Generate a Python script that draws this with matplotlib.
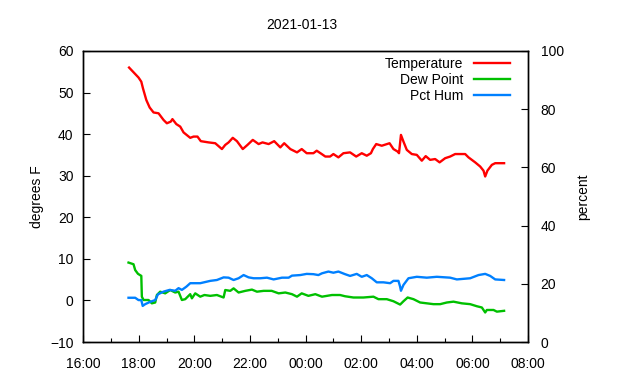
import matplotlib
matplotlib.use("Agg")
import matplotlib.pyplot as plt
import matplotlib.dates as mdates
import pandas as pd

plt.rcParams['font.family'] = ['Liberation Sans', 'DejaVu Sans']

# readings, hours after 2021-01-12 16:00
temp_h = [1.65, 1.99, 2.09, 2.15, 2.27, 2.39, 2.53, 2.71, 2.89, 3.01, 3.15, 3.21, 3.35, 3.49,
          3.61, 3.85, 3.97, 4.11, 4.23, 4.51, 4.75, 4.99, 5.11, 5.23, 5.38, 5.53, 5.74, 5.91,
          6.10, 6.31, 6.45, 6.67, 6.87, 7.09, 7.23, 7.45, 7.69, 7.86, 8.04, 8.28, 8.40, 8.58,
          8.71, 8.88, 9.00, 9.18, 9.36, 9.60, 9.82, 10.02, 10.20, 10.35, 10.42, 10.54, 10.74,
          11.02, 11.16, 11.31, 11.36, 11.43, 11.52, 11.64, 11.82, 12.00, 12.18, 12.32, 12.48,
          12.66, 12.82, 13.02, 13.20, 13.38, 13.74, 13.86, 14.10, 14.28, 14.40, 14.46, 14.54,
          14.70, 14.82, 15.14]
temp_f = [56.0, 53.6, 52.6, 51.0, 48.2, 46.4, 45.2, 45.0, 43.4, 42.6, 43.0, 43.6, 42.4, 41.8,
          40.4, 39.1, 39.4, 39.4, 38.3, 38.0, 37.8, 36.4, 37.4, 38.0, 39.1, 38.3, 36.4, 37.4,
          38.6, 37.6, 38.0, 37.6, 38.3, 36.8, 37.8, 36.4, 35.6, 36.4, 35.4, 35.4, 36.0, 35.2,
          34.6, 34.6, 35.2, 34.4, 35.4, 35.6, 34.6, 35.4, 34.8, 35.4, 36.4, 37.6, 37.2,
          37.8, 36.4, 35.8, 35.4, 39.8, 38.2, 36.2, 35.2, 35.0, 33.6, 34.7, 33.8,
          34.0, 33.2, 34.2, 34.6, 35.2, 35.2, 34.4, 33.2, 32.2, 31.2, 29.8, 31.2,
          32.6, 33.0, 33.0]

dew_h = [1.63, 1.81, 1.87, 1.97, 2.09, 2.11, 2.17, 2.35, 2.47, 2.59, 2.65, 2.77, 2.95, 3.13,
         3.31, 3.43, 3.55, 3.67, 3.85, 3.91, 4.03, 4.21, 4.36, 4.57, 4.81, 5.05, 5.11, 5.29,
         5.41, 5.59, 5.83, 6.07, 6.25, 6.49, 6.78, 7.03, 7.27, 7.51, 7.69, 7.86, 8.10, 8.35,
         8.59, 8.95, 9.24, 9.42, 9.72, 10.08, 10.44, 10.62, 10.92, 11.16, 11.40, 11.52, 11.67,
         11.88, 12.12, 12.36, 12.60, 12.84, 13.08, 13.32, 13.62, 13.92, 14.16, 14.34, 14.46,
         14.52, 14.76, 14.88, 15.14]
dew_f = [9.1, 8.7, 7.3, 6.4, 5.9, 0.9, 0.1, 0.1, -0.7, -0.5, 1.3, 2.1, 1.7, 2.5,
         1.9, 2.1, 0.1, 0.3, 1.5, 0.5, 1.7, 0.9, 1.3, 1.1, 1.3, 0.7, 2.5, 2.3,
         2.9, 1.9, 2.3, 2.6, 2.1, 2.3, 2.3, 1.7, 1.9, 1.5, 0.9, 1.7, 1.1, 1.5,
         0.9, 1.3, 1.3, 1.0, 0.7, 0.7, 0.9, 0.3, 0.3, -0.2, -1.0, -0.2, 0.7,
         0.3, -0.5, -0.7, -0.9, -0.9, -0.5, -0.3, -0.7, -0.9, -1.4, -1.7, -2.9,
         -2.3, -2.3, -2.7, -2.5]

hum_h = [1.63, 1.87, 1.99, 2.09, 2.14, 2.23, 2.41, 2.59, 2.69, 2.89, 3.11, 3.31, 3.43, 3.55,
         3.71, 3.85, 4.03, 4.21, 4.39, 4.57, 4.81, 5.05, 5.23, 5.41, 5.59, 5.77, 5.95, 6.13,
         6.37, 6.61, 6.85, 7.15, 7.39, 7.51, 7.81, 8.04, 8.28, 8.46, 8.59, 8.82, 9.00, 9.18,
         9.42, 9.60, 9.84, 10.02, 10.20, 10.38, 10.56, 10.80, 11.04, 11.16, 11.34, 11.40,
         11.43, 11.52, 11.70, 12.00, 12.36, 12.72, 13.20, 13.44, 13.92, 14.22, 14.46, 14.64,
         14.82, 15.14]
hum_pct = [15.2, 15.2, 14.4, 14.4, 12.4, 13.0, 13.8, 14.4, 16.4, 17.3, 17.9, 17.6, 18.5, 17.9,
           19.0, 20.2, 20.2, 20.2, 20.6, 21.0, 21.3, 22.2, 22.1, 21.3, 21.9, 23.0, 22.2, 21.9,
           21.9, 22.1, 21.5, 22.1, 22.1, 22.8, 23.0, 23.4, 23.3, 23.0, 23.6, 24.2, 23.8, 24.2,
           23.3, 22.7, 23.4, 22.4, 23.0, 21.9, 20.5, 20.5, 20.2, 21.0, 21.0, 19.0,
           17.6, 19.6, 21.9, 22.4, 22.1, 22.4, 22.1, 21.5, 21.9, 23.0, 23.4, 22.7,
           21.5, 21.3]

start = pd.Timestamp('2021-01-12 16:00')
def to_time(hours):
    return [start + pd.Timedelta(hours=h) for h in hours]

fig = plt.figure(figsize=(6.4, 3.8), dpi=100)
ax = fig.add_axes([0.13, 0.1, 0.695, 0.766])
ax2 = ax.twinx()

l1, = ax.plot(to_time(temp_h), temp_f, color='#ff0000', lw=1.7, label='Temperature')
l2, = ax.plot(to_time(dew_h), dew_f, color='#00c000', lw=1.7, label='Dew Point')
l3, = ax2.plot(to_time(hum_h), hum_pct, color='#0080ff', lw=1.7, label='Pct Hum')

ax.set_xlim(start, start + pd.Timedelta(hours=16))
ax.set_ylim(-10, 60)
ax.set_yticks(range(-10, 61, 10))
ax2.set_ylim(0, 100)
ax2.set_yticks(range(0, 101, 20))

ax.xaxis.set_major_locator(mdates.HourLocator(byhour=range(0, 24, 2)))
ax.xaxis.set_minor_locator(mdates.HourLocator())
ax.xaxis.set_major_formatter(mdates.DateFormatter('%H:%M'))

for a in (ax, ax2):
    a.tick_params(direction='in', length=5, width=0.8, labelsize=10, pad=7)
    a.tick_params(which='minor', direction='in', length=3, width=0.8)
    for s in a.spines.values():
        s.set_linewidth(1.0)
ax.tick_params(axis='x', pad=11)
ax.tick_params(axis='y', right=False)
ax2.tick_params(axis='y', left=False, pad=9)

ax.set_ylabel('degrees F', fontsize=10, labelpad=4)
ax2.set_ylabel('percent', fontsize=10, labelpad=9)
fig.text(0.472, 0.933, '2021-01-13', ha='center', va='center', fontsize=10)

leg = ax.legend(handles=[l1, l2, l3], loc='upper right', frameon=False, markerfirst=False,
                fontsize=10, handlelength=2.6, labelspacing=0.14, borderaxespad=0.0,
                bbox_to_anchor=(0.973, 0.997))
for t in leg.get_texts():
    t.set_ha('right')

fig.savefig('out.png', dpi=100)
